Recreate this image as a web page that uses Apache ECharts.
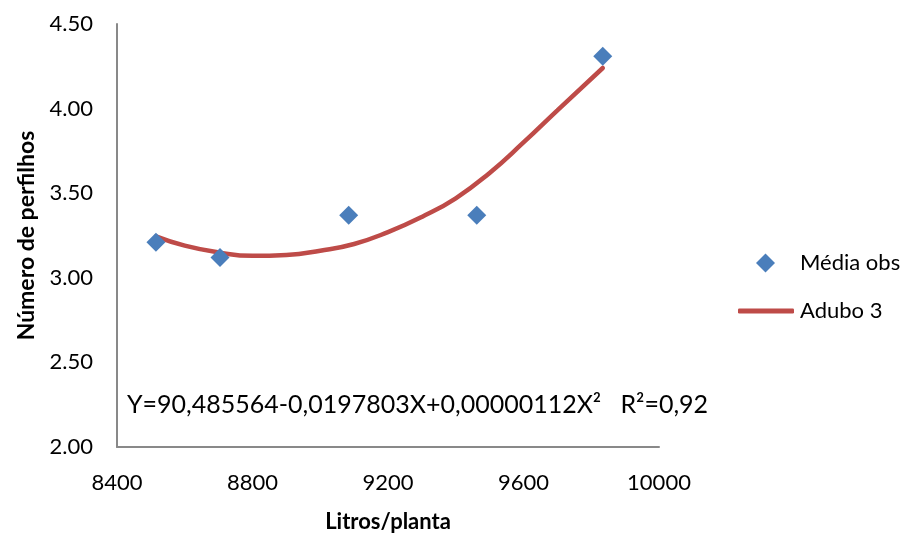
<!DOCTYPE html>
<html>
<head>
<meta charset="utf-8">
<script src="https://cdn.jsdelivr.net/npm/echarts@6/dist/echarts.min.js"></script>
<style>
  html, body { margin: 0; padding: 0; background: #fff; }
  #chart { width: 909px; height: 538px; }
</style>
</head>
<body>
<div id="chart"></div>
<script>
// observed means (Litros/planta, Número de perfilhos)
const obsX = [8515, 8704, 9084, 9462, 9834];
const obsY = [3.21, 3.12, 3.37, 3.37, 4.31];

// fitted curve
const fitX = [8515, 8600, 8700, 8800, 8900, 9000, 9100, 9200, 9300, 9400, 9500, 9600, 9700, 9834];
const fitY = [3.245, 3.19, 3.15, 3.13, 3.135, 3.16, 3.20, 3.27, 3.36, 3.47, 3.62, 3.80, 3.99, 4.24];

const xTicks = { min: 8400, max: 10000, step: 400 };
const yTicks = { min: 2, max: 4.5, step: 0.5 };

const equation = "Y=90,485564-0,0197803X+0,00000112X²   R²=0,92";

const font = "Lato, 'Open Sans', sans-serif";
const axisGray = "#898989";

const chart = echarts.init(document.getElementById("chart"));

const option = {
  backgroundColor: "#fff",
  animation: false,
  textStyle: { fontFamily: font },
  grid: {
    left: 117,
    right: 250,
    top: 24,
    bottom: 91,
    containLabel: false,
  },
  legend: [
    {
      data: [{ name: "Média obs", icon: "diamond" }],
      left: 751,
      top: 247,
      itemWidth: 19,
      itemHeight: 19,
      textStyle: { fontSize: 22, color: "#000", fontFamily: font, padding: [0, 0, 0, 20] },
      selectedMode: false,
    },
    {
      data: [{ name: "Adubo 3", icon: "roundRect" }],
      left: 733,
      top: 295,
      itemWidth: 56,
      itemHeight: 5,
      textStyle: { fontSize: 22, color: "#000", fontFamily: font, padding: [0, 0, 0, 1] },
      selectedMode: false,
    },
  ],
  xAxis: {
    type: "value",
    min: xTicks.min,
    max: xTicks.max,
    interval: xTicks.step,
    name: "Litros/planta",
    nameLocation: "middle",
    nameGap: 64,
    nameTextStyle: { fontSize: 22, fontWeight: "bold", color: "#000", fontFamily: font },
    axisLine: { lineStyle: { color: axisGray, width: 2 } },
    axisTick: { show: false },
    axisLabel: { fontSize: 22, color: "#000", margin: 25, fontFamily: font, formatter: (v) => String(v) },
    splitLine: { show: false },
  },
  yAxis: {
    type: "value",
    min: yTicks.min,
    max: yTicks.max,
    interval: yTicks.step,
    name: "Número de perfilhos",
    nameLocation: "middle",
    nameGap: 79,
    nameRotate: 90,
    nameTextStyle: { fontSize: 23, fontWeight: "bold", color: "#000", fontFamily: font },
    axisLine: { show: true, lineStyle: { color: axisGray, width: 2 } },
    axisTick: { show: false },
    axisLabel: {
      fontSize: 22,
      color: "#000",
      margin: 24,
      fontFamily: font,
      formatter: (v) => v.toFixed(2),
    },
    splitLine: { show: false },
  },
  graphic: [
    {
      type: "text",
      left: 127,
      top: 392,
      style: { text: equation, fontSize: 25, fill: "#000", fontFamily: font },
    },
  ],
  series: [
    {
      name: "Adubo 3",
      type: "line",
      smooth: true,
      symbol: "none",
      data: fitX.map((x, i) => [x, fitY[i]]),
      lineStyle: { color: "#be4b48", width: 4.5, cap: "round" },
      itemStyle: { color: "#be4b48" },
      z: 2,
    },
    {
      name: "Média obs",
      type: "scatter",
      symbol: "diamond",
      symbolSize: 19,
      data: obsX.map((x, i) => [x, obsY[i]]),
      itemStyle: { color: "#4a7ebb", opacity: 1 },
      z: 3,
    },
  ],
};

chart.setOption(option);
</script>
</body>
</html>
